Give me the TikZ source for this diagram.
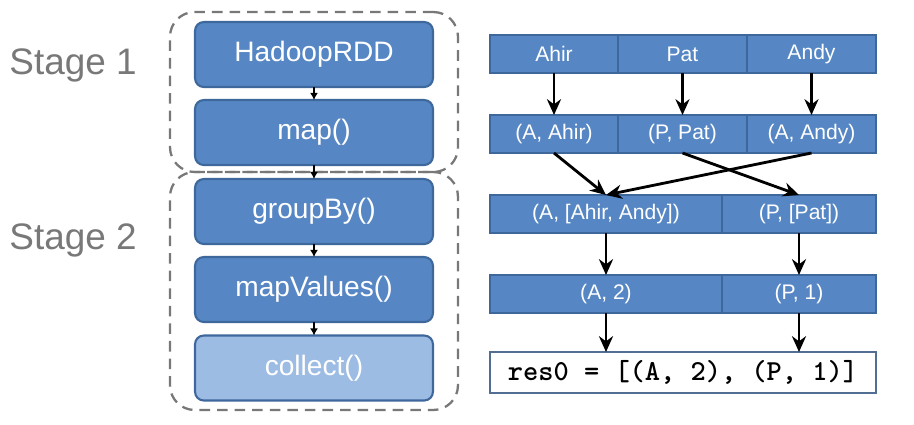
\documentclass[tikz,border=0pt]{standalone}
\usepackage{fontspec}
\setmainfont{Liberation Sans}
\usepackage{tikz}
\usetikzlibrary{arrows.meta,positioning}
\definecolor{rddblue}{RGB}{86,135,196}
\definecolor{rddedge}{RGB}{62,104,156}
\definecolor{rddlight}{RGB}{156,188,228}
\definecolor{stagegray}{RGB}{120,120,120}
\tikzset{
    rdd/.style={
    rectangle,rounded corners=5pt,draw=rddedge,line width=1.2pt,fill=rddblue,
    text=white,minimum width=4.76cm,minimum height=1.3cm,outer sep=0pt,
    font=\fontsize{16}{19}\selectfont
    },
    lrdd/.style={
    rdd,fill=rddlight
    },
    stagebox/.style={
    rectangle,rounded corners=14pt,dashed,draw=stagegray,line width=1.3pt,
    dash pattern=on 6pt off 4pt
    },
    stagelabel/.style={
    text=stagegray,font=\fontsize{21}{25}\selectfont
    },
    cell/.style={
    rectangle,draw=rddedge,line width=0.8pt,fill=rddblue,text=white,
    minimum height=0.76cm,outer sep=0pt,inner sep=0pt,
    font=\fontsize{12}{14}\selectfont
    },
    result/.style={
    rectangle,draw=rddedge!70!gray,line width=1.2pt,fill=white,
    minimum width=7.72cm,minimum height=0.82cm,outer sep=0pt,
    font=\ttfamily\bfseries\fontsize{16.5}{19}\selectfont
    },
    flow/.style={
    line width=1.6pt,-{Stealth[length=9pt,width=8pt]}
    },
    dep/.style={
    line width=1.5pt,-{Latex[length=4pt,width=4.5pt]}
    },
}
\begin{document}
\begin{tikzpicture}[x=0.02cm,y=-0.02cm]
   \useasboundingbox (0,0) rectangle (914,424);
   % stages
   \node[stagebox,minimum width=5.76cm,minimum height=3.2cm] (s1) at (314,92) {};
   \node[stagebox,minimum width=5.76cm,minimum height=4.76cm] (s2) at (314,291) {};
   \node[stagelabel] (l1) at (73,65) {Stage 1};
   \node[stagelabel] (l2) at (73,240) {Stage 2};

   % lineage
   \node[rdd] (hadoop) at (314,54.5) {HadoopRDD};
   \node[rdd] (map) at (314,132.5) {map()};
   \node[rdd] (group) at (314,211.5) {groupBy()};
   \node[rdd] (mapv) at (314,289.5) {mapValues()};
   \node[lrdd] (collect) at (314,368) {collect()};

   \path[dep]
     (hadoop) edge (map)
     (map) edge (group)
     (group) edge (mapv)
     (mapv) edge (collect);

   % data
   \node[cell,minimum width=2.56cm] (ahir) at (554,54) {Ahir};
   \node[cell,minimum width=2.58cm] (pat) at (682.5,54) {Pat};
   \node[cell,minimum width=2.58cm] (andy) at (811.5,54) {Andy};

   \node[cell,minimum width=2.56cm] (kahir) at (554,134) {(A, Ahir)};
   \node[cell,minimum width=2.58cm] (kpat) at (682.5,134) {(P, Pat)};
   \node[cell,minimum width=2.58cm] (kandy) at (811.5,134) {(A, Andy)};

   \node[cell,minimum width=4.64cm] (ga) at (606,214) {(A, [Ahir, Andy])};
   \node[cell,minimum width=3.08cm] (gp) at (799,214) {(P, [Pat])};

   \node[cell,minimum width=4.64cm] (ca) at (606,294) {(A, 2)};
   \node[cell,minimum width=3.08cm] (cp) at (799,294) {(P, 1)};

   \node[result] (res) at (683,372.5) {res0 = [(A, 2), (P, 1)]};

   \path[flow]
     (ahir) edge (kahir)
     (pat) edge (kpat)
     (andy) edge (kandy)
     (kahir.south) edge (ga.north)
     (kandy.south) edge (ga.north)
     (kpat.south) edge (gp.north)
     (ga) edge (ca)
     (gp) edge (cp)
     (ca) edge (ca.south |- res.north)
     (cp) edge (cp.south |- res.north);
\end{tikzpicture}
\end{document}
